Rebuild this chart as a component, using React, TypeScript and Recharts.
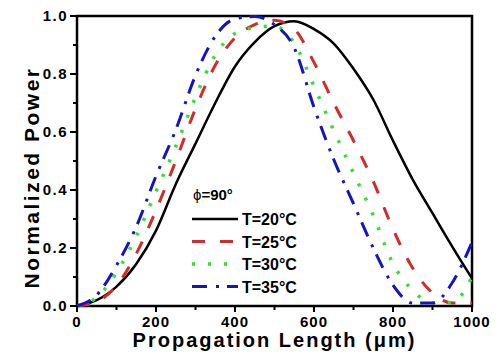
import { LineChart, Line, XAxis, YAxis, ReferenceArea, Legend } from 'recharts';

const lengths = [0, 50, 100, 150, 200, 250, 300, 350, 400, 450, 500, 550, 600, 650, 700, 750, 800, 850, 900, 950, 1000];
const t20 = [0, 0.02, 0.067, 0.145, 0.26, 0.42, 0.56, 0.7, 0.826, 0.91, 0.965, 0.982, 0.955, 0.905, 0.818, 0.712, 0.57, 0.436, 0.32, 0.205, 0.095];
const t25 = [0, 0.015, 0.07, 0.18, 0.33, 0.5, 0.68, 0.83, 0.925, 0.97, 0.985, 0.955, 0.84, 0.7, 0.57, 0.43, 0.265, 0.13, 0.045, 0.01, 0.01];
const t30 = [0, 0.03, 0.115, 0.24, 0.395, 0.55, 0.72, 0.865, 0.94, 0.96, 0.965, 0.906, 0.758, 0.605, 0.458, 0.313, 0.146, 0.054, 0.01, 0.012, 0.1];
const t35 = [0, 0.038, 0.14, 0.273, 0.448, 0.607, 0.795, 0.93, 0.99, 0.998, 0.97, 0.89, 0.685, 0.505, 0.353, 0.2, 0.072, 0.01, 0.01, 0.08, 0.22];

const xTicks = [0, 100, 200, 300, 400, 500, 600, 700, 800, 900, 1000];
const yTicks = [0, 0.1, 0.2, 0.3, 0.4, 0.5, 0.6, 0.7, 0.8, 0.9, 1];

const series = [
  { key: 't20', name: 'T=20°C', color: '#000000', width: 2.5, dash: undefined },
  { key: 't25', name: 'T=25°C', color: '#d42a2a', width: 3, dash: '13 15' },
  { key: 't30', name: 'T=30°C', color: '#33e033', width: 3.5, dash: '3 13' },
  { key: 't35', name: 'T=35°C', color: '#1515c0', width: 3, dash: '15 9 3 8' },
];

const data = lengths.map((x, i) => ({ x, t20: t20[i], t25: t25[i], t30: t30[i], t35: t35[i] }));

const FONT = '"Liberation Sans", Arial, sans-serif';

function XTick(props: any) {
  const { x, y, payload } = props;
  const major = payload.value % 200 === 0;
  return (
    <g>
      <line x1={x} x2={x} y1={y} y2={y + (major ? 6 : 4)} stroke="#000" strokeWidth={2} />
      {major && (
        <text x={x} y={y + 21} textAnchor="middle" fontFamily={FONT} fontWeight="bold" fontSize={15} letterSpacing={1} fill="#000">
          {payload.value}
        </text>
      )}
    </g>
  );
}

function YTick(props: any) {
  const { x, y, payload } = props;
  const v = Math.round(payload.value * 10);
  const major = v % 2 === 0;
  return (
    <g>
      <line x1={x} x2={x - (major ? 7 : 4)} y1={y} y2={y} stroke="#000" strokeWidth={2} />
      {major && (
        <text x={x - 9} y={y + 5} textAnchor="end" fontFamily={FONT} fontWeight="bold" fontSize={15} letterSpacing={1.5} fill="#000">
          {payload.value.toFixed(1)}
        </text>
      )}
    </g>
  );
}

function XTitle() {
  return (
    <text x={274.5} y={347} textAnchor="middle" fontFamily={FONT} fontWeight="bold" fontSize={20} letterSpacing={2} fill="#000">
      Propagation Length (μm)
    </text>
  );
}

function YTitle() {
  return (
    <text transform="translate(39,177.5) rotate(-90)" x={0} y={0} textAnchor="middle" fontFamily={FONT} fontWeight="bold" fontSize={21} letterSpacing={2.5} fill="#000">
      Normalized Power
    </text>
  );
}

function LegendBox() {
  return (
    <svg width={120} height={112} style={{ display: 'block' }}>
      <text x={5} y={16} fontFamily={FONT} fontSize={15} fontWeight="bold" fill="#000">
        <tspan fontWeight="normal">ϕ</tspan>=90°
      </text>
      {series.map((s, i) => {
        const y = 35 + i * 22.5;
        return (
          <g key={s.key}>
            <line x1={4} x2={50} y1={y} y2={y} stroke={s.color} strokeWidth={s.width} strokeDasharray={s.dash} />
            <text x={54} y={y + 6} fontFamily={FONT} fontSize={16} fontWeight="bold" fill="#000">
              {s.name}
            </text>
          </g>
        );
      })}
    </svg>
  );
}

export default function App() {
  return (
    <div style={{ position: 'fixed', left: 0, top: 0, width: 499, height: 355, background: '#fff' }}>
      <LineChart width={499} height={355} data={data} margin={{ top: 16, right: 27, left: 0, bottom: 0 }}>
        <XAxis
          dataKey="x"
          type="number"
          domain={[0, 1000]}
          ticks={xTicks}
          interval={0}
          height={49}
          axisLine={false}
          tickLine={false}
          tickSize={0}
          tickMargin={0}
          tick={<XTick />}
          label={<XTitle />}
        />
        <YAxis
          type="number"
          domain={[0, 1]}
          ticks={yTicks}
          interval={0}
          width={77}
          axisLine={false}
          tickLine={false}
          tickSize={0}
          tickMargin={0}
          tick={<YTick />}
          label={<YTitle />}
        />
        <Legend
          layout="vertical"
          align="center"
          verticalAlign="middle"
          content={<LegendBox />}
          wrapperStyle={{ position: 'absolute', left: 188, top: 184, width: 120, height: 112 }}
        />
        {series.map((s) => (
          <Line
            key={s.key}
            type="monotone"
            dataKey={s.key}
            name={s.name}
            stroke={s.color}
            strokeWidth={s.width}
            strokeDasharray={s.dash}
            dot={false}
            activeDot={false}
            isAnimationActive={false}
          />
        ))}
        <ReferenceArea x1={0} x2={1000} y1={0} y2={1} fill="none" fillOpacity={0} stroke="#000" strokeWidth={2.5} ifOverflow="visible" />
      </LineChart>
    </div>
  );
}
